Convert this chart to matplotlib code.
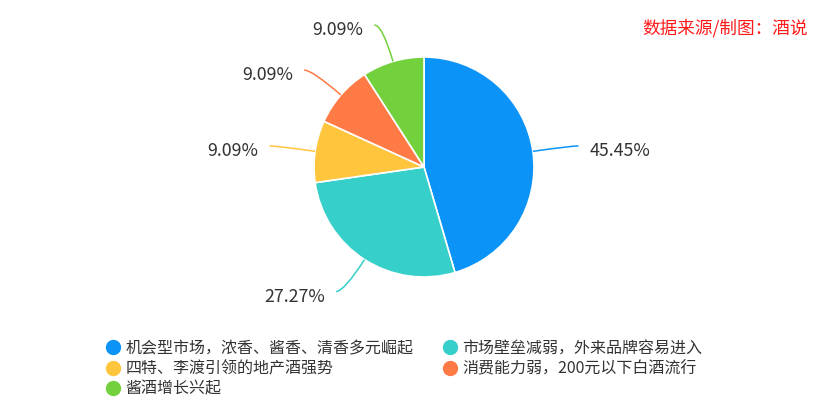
import numpy as np
import matplotlib
matplotlib.use("Agg")
import matplotlib.pyplot as plt
from matplotlib.path import Path
from matplotlib.patches import PathPatch
from matplotlib.lines import Line2D

plt.rcParams['font.family'] = ['Noto Sans CJK SC', 'DejaVu Sans']

# data
categories = ['机会型市场，浓香、酱香、清香多元崛起',
              '市场壁垒减弱，外来品牌容易进入',
              '四特、李渡引领的地产酒强势',
              '消费能力弱，200元以下白酒流行',
              '酱酒增长兴起']
values = [5, 3, 1, 1, 1]
colors = ['#0b93f8', '#36cfc9', '#ffc53d', '#ff7a45', '#73d13d']
source_note = '数据来源/制图：酒说'

W, H = 831, 415
fig = plt.figure(figsize=(W / 100, H / 100), dpi=100)
ax = fig.add_axes([0, 0, 1, 1])

cx, cy, r = 424, 248, 110
wedges, _ = ax.pie(values, colors=colors, startangle=90, counterclock=False,
                   center=(cx, cy), radius=r,
                   wedgeprops=dict(edgecolor='white', linewidth=1.2))
ax.set_xlim(0, W)
ax.set_ylim(0, H)
ax.set_aspect('equal')
ax.axis('off')

# leader lines + percent labels
total = sum(values)
for w, v, c in zip(wedges, values, colors):
    ang = np.deg2rad((w.theta1 + w.theta2) / 2)
    ux, uy = np.cos(ang), np.sin(ang)
    p0 = (cx + r * ux, cy + r * uy)
    p1 = (cx + (r + 38) * ux, cy + (r + 38) * uy)
    side = 1 if ux >= 0 else -1
    p2 = (p1[0] + side * 8, p1[1])
    path = Path([p0, p1, p2], [Path.MOVETO, Path.CURVE3, Path.CURVE3])
    ax.add_patch(PathPatch(path, facecolor='none', edgecolor=c, lw=1.1))
    ax.text(p2[0] + side * 11, p2[1] - 5, f'{v / total * 100:.2f}%',
            ha='left' if side > 0 else 'right', va='center',
            fontsize=12.8, color='#333333')

ax.text(808, H - 28, source_note, ha='right', va='center',
        fontsize=12.7, color='#ff1a1a')

handles = [Line2D([], [], marker='o', linestyle='none', markersize=10,
                  markerfacecolor=c, markeredgecolor=c) for c in colors]
order = [0, 2, 4, 1, 3]
fig.legend([handles[i] for i in order], [categories[i] for i in order],
           ncol=2, loc='upper left', bbox_to_anchor=(106 / W, 1 - 340 / H),
           frameon=False, fontsize=11.5, labelcolor='#333333',
           handletextpad=0.3, handlelength=0.9, columnspacing=1.85,
           labelspacing=0.2, borderaxespad=0, borderpad=0)

fig.savefig('out.png', dpi=100)
